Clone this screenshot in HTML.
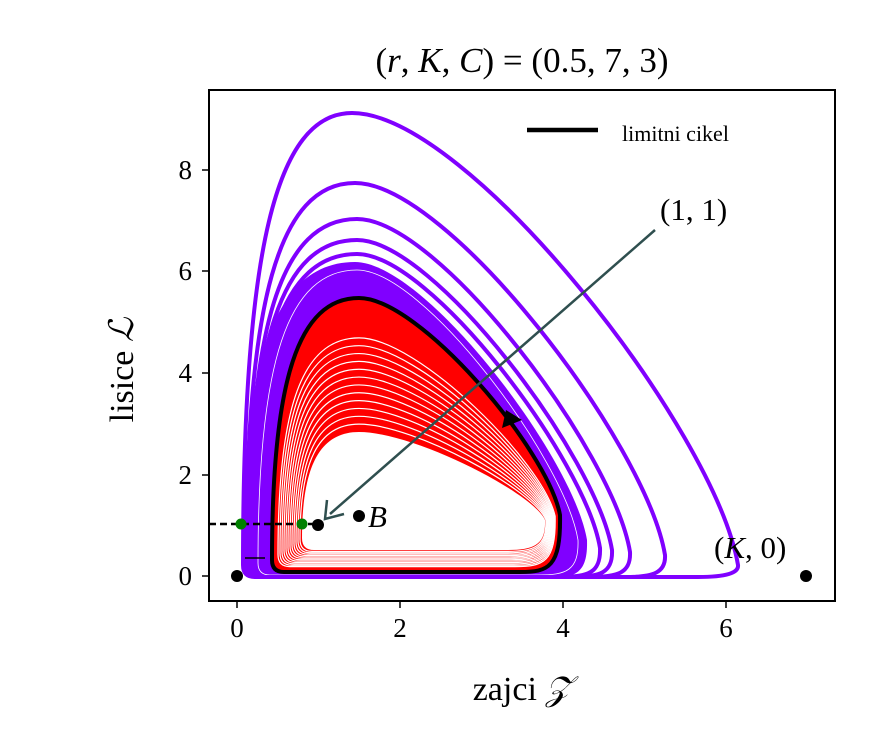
<!DOCTYPE html>
<html><head><meta charset="utf-8"><style>
html,body{margin:0;padding:0;background:#fff;}
svg text{font-family:"Liberation Serif",serif;fill:#000;}
</style></head><body>
<svg id="s" width="870" height="750" xmlns="http://www.w3.org/2000/svg">
<defs><clipPath id="c"><rect x="209" y="90" width="626" height="511"/></clipPath></defs>
<g id="g" clip-path="url(#c)"></g>
<rect x="209" y="90" width="626" height="511" fill="none" stroke="#000" stroke-width="2"/>
<g stroke="#000" stroke-width="1.5">
<line x1="237" y1="601" x2="237" y2="608"/><line x1="400" y1="601" x2="400" y2="608"/>
<line x1="563" y1="601" x2="563" y2="608"/><line x1="726" y1="601" x2="726" y2="608"/>
<line x1="202" y1="576" x2="209" y2="576"/><line x1="202" y1="475" x2="209" y2="475"/>
<line x1="202" y1="373" x2="209" y2="373"/><line x1="202" y1="271" x2="209" y2="271"/>
<line x1="202" y1="170" x2="209" y2="170"/>
</g>
<g font-size="27" text-anchor="middle">
<text x="237" y="637">0</text><text x="400" y="637">2</text><text x="563" y="637">4</text><text x="726" y="637">6</text>
</g>
<g font-size="27" text-anchor="end">
<text x="192" y="585">0</text><text x="192" y="484">2</text><text x="192" y="382">4</text><text x="192" y="280">6</text><text x="192" y="179">8</text>
</g>
<text x="522" y="72" font-size="35" text-anchor="middle">(<tspan font-style="italic">r</tspan>, <tspan font-style="italic">K</tspan>, <tspan font-style="italic">C</tspan>) = (0.5, 7, 3)</text>
<text x="522" y="700" font-size="34" text-anchor="middle">zajci <tspan font-style="italic">𝒵</tspan></text>
<text transform="translate(133,370) rotate(-90)" font-size="34" text-anchor="middle">lisice <tspan font-style="italic">ℒ</tspan></text>
<line x1="527" y1="130" x2="598" y2="130" stroke="#000" stroke-width="4.5"/>
<text x="622" y="141" font-size="22">limitni cikel</text>
<text x="660" y="220" font-size="31">(1, 1)</text>
<text x="714" y="558" font-size="31">(<tspan font-style="italic">K</tspan>, 0)</text>
<text x="368" y="527" font-size="31" font-style="italic">B</text>
</svg>
<script>
function sh(L,T,xt,R,yR,B){
 return `M${L},${B-12} C${L},${T+(B-T)*0.3} ${xt-(xt-L)*0.7},${T} ${xt},${T} C${xt+(R-xt)*0.3},${T} ${R-(R-xt)*0.06},${yR-(yR-T)*0.3} ${R},${yR} C${R+1},${B-4} ${R-12},${B} ${R-40},${B} L${L+12},${B} Q${L},${B} ${L},${B-12} Z`;
}
function lerp(a,b,t){return a+(b-a)*t;}
let h='';
h+=`<path d="${sh(242,262,355,587,540,578)}" fill="#8000ff"/>`;
h+=`<path d="${sh(258,270,357,578,540,575)}" fill="none" stroke="#fff" stroke-width="0.8"/>`;
const pc=[[243,113,352,738,565],[246,183,355,665,555],[248,219,357,630,552],[249,240,357,612,550],[250,254,357,600,548]];
for(const p of pc){h+=`<path d="${sh(p[0],p[1],p[2],p[3],p[4],577)}" fill="none" stroke="#8000ff" stroke-width="4"/>`;}
h+=`<path d="${sh(272,298,359,560,515,572)}" fill="#ff0000"/>`;
const hole=[302,432,359,545,520,550], out=[276,330,359,556,516,568];
for(let i=1;i<=12;i++){const t=i/13;const q=hole.map((v,k)=>lerp(v,out[k],t));
 h+=`<path d="${sh(...q)}" fill="none" stroke="#fff" stroke-width="1.2"/>`;}
h+=`<path d="${sh(...hole)}" fill="#fff"/>`;
h+=`<path d="${sh(272,298,359,560,515,572)}" fill="none" stroke="#000" stroke-width="4"/>`;
h+=`<path d="M502,428 L506,410 L522,420 Z" fill="#000"/>`;
h+=`<line x1="655" y1="230" x2="330" y2="514" stroke="#2f4f4f" stroke-width="2.5"/>`;
h+=`<polyline points="327,500 325,519 344,514" fill="none" stroke="#2f4f4f" stroke-width="2.5"/>`;
h+=`<line x1="209" y1="524" x2="318" y2="524" stroke="#000" stroke-width="2.5" stroke-dasharray="7,4"/>`;
h+=`<line x1="245" y1="558" x2="265" y2="558" stroke="#000" stroke-width="1.5"/>`;
for(const [x,y] of [[237,576],[318,525],[359,516],[806,576]]) h+=`<circle cx="${x}" cy="${y}" r="6" fill="#000"/>`;
for(const [x,y] of [[241,524],[302,524]]) h+=`<circle cx="${x}" cy="${y}" r="5.5" fill="#008000"/>`;
document.getElementById('g').innerHTML=h;
</script>
</body></html>
